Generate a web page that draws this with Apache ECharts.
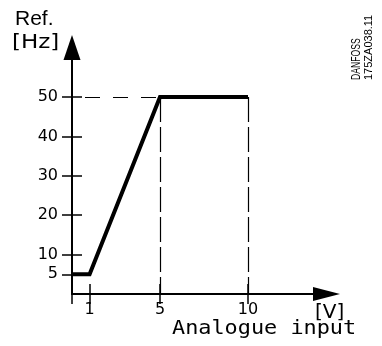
<!DOCTYPE html>
<html>
<head>
<meta charset="utf-8">
<script src="https://cdn.jsdelivr.net/npm/echarts@6/dist/echarts.min.js"></script>
<style>
html, body { margin: 0; padding: 0; background: #fff; }
#chart { width: 382px; height: 346px; }
</style>
</head>
<body>
<div id="chart"></div>
<script>
// characteristic: analogue input [V] -> reference [Hz]
var inputV = [0, 1, 5, 10];
var refHz = [5, 5, 50, 50];
var xTickValues = [1, 5, 10];
var yTickValues = [5, 10, 20, 30, 40, 50];
var xMax = 14.46;
var yMax = 62.6;

(function () {
	var chart = echarts.init(document.getElementById('chart'));
	var numFont = 'DejaVu Sans';

	var points = [];
	for (var i = 0; i < inputV.length; i++) {
		points.push([inputV[i], refHz[i]]);
	}
	var topV = inputV[2], topHz = refHz[2], endV = inputV[3];

	function txt(x, y, text, size, family, extra) {
		var el = { type: 'text', x: x, y: y,
			style: { text: text, fontSize: size, fontFamily: family, fill: '#000' } };
		for (var k in extra) {
			if (k === 'style') {
				for (var s in extra.style) el.style[s] = extra.style[s];
			} else {
				el[k] = extra[k];
			}
		}
		return el;
	}

	var option = {
		animation: false,
		grid: { left: 72, right: 55.5, top: 47.5, bottom: 52 },
		xAxis: [{
			type: 'value', position: 'bottom', min: 0, max: xMax,
			axisLine: { onZero: false, lineStyle: { color: '#000', width: 2 },
				symbol: ['none', 'triangle'], symbolSize: [14, 27] },
			axisTick: { show: true, inside: false, length: 10, customValues: [0].concat(xTickValues),
				lineStyle: { color: '#000', width: 1.5 } },
			axisLabel: { customValues: xTickValues, color: '#000', fontFamily: numFont, fontSize: 16, margin: 8 },
			splitLine: { show: false }
		}, {
			type: 'value', position: 'bottom', min: 0, max: xMax,
			axisLine: { show: false },
			axisTick: { show: true, inside: true, length: 10, customValues: xTickValues,
				lineStyle: { color: '#000', width: 1.5 } },
			axisLabel: { show: false },
			splitLine: { show: false }
		}],
		yAxis: [{
			type: 'value', position: 'left', min: 0, max: yMax,
			axisLine: { show: true, onZero: false, lineStyle: { color: '#000', width: 2 },
				symbol: ['none', 'triangle'], symbolSize: [17, 25] },
			axisTick: { show: true, inside: false, length: 10, customValues: yTickValues,
				lineStyle: { color: '#000', width: 1.5 } },
			axisLabel: { customValues: yTickValues, color: '#000', fontFamily: numFont, fontSize: 16, margin: 14 },
			splitLine: { show: false }
		}, {
			type: 'value', position: 'left', min: 0, max: yMax,
			axisLine: { show: false },
			axisTick: { show: true, inside: true, length: 10, customValues: yTickValues,
				lineStyle: { color: '#000', width: 1.5 } },
			axisLabel: { show: false },
			splitLine: { show: false }
		}],
		series: [{
			type: 'line',
			data: points,
			symbol: 'none',
			lineStyle: { color: '#000', width: 4, join: 'miter' },
			markLine: {
				silent: true,
				symbol: ['none', 'none'],
				label: { show: false },
				lineStyle: { color: '#000', width: 1.2 },
				data: [
					[{ coord: [0, topHz], lineStyle: { type: [15, 13], dashOffset: 15 } }, { coord: [topV, topHz] }],
					[{ coord: [topV, topHz], lineStyle: { type: [25, 5] } }, { coord: [topV, 0] }],
					[{ coord: [endV, topHz], lineStyle: { type: [25, 5] } }, { coord: [endV, 0] }]
				]
			}
		}],
		graphic: [
			txt(15, 9, 'Ref.', 21, 'Liberation Sans', {}),
			txt(12, 33, '[Hz]', 20, 'DejaVu Sans', { scaleX: 1.15 }),
			txt(315, 303, '[V]', 20, 'DejaVu Sans', {}),
			txt(172, 320, 'Analogue input', 19, 'DejaVu Sans Mono', { scaleX: 1.15 }),
			txt(357, 80, 'DANFOSS', 12, 'Liberation Sans',
				{ rotation: Math.PI / 2, scaleX: 0.72, style: { align: 'left', verticalAlign: 'middle' } }),
			txt(369, 80, '175ZA038.11', 11, 'Liberation Sans',
				{ rotation: Math.PI / 2, style: { align: 'left', verticalAlign: 'middle' } })
		]
	};
	chart.setOption(option, true);
})();
</script>
</body>
</html>
